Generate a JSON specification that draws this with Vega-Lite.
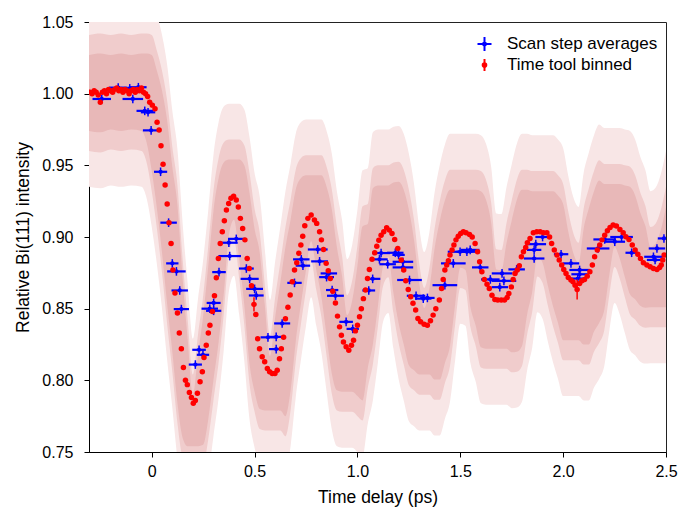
{
  "$schema": "https://vega.github.io/schema/vega-lite/v6.json",
  "width": 577,
  "height": 430,
  "autosize": "none",
  "padding": {"left": 89, "top": 22, "right": 12, "bottom": 58},
  "background": "white",
  "datasets": {
    "cloud": [
      {"x":-0.305,"ilo":0.974,"ihi":1.027,"lo":0.960,"hi":1.041,"olo":0.935,"ohi":1.066},
      {"x":-0.25,"ilo":0.973,"ihi":1.028,"lo":0.959,"hi":1.042,"olo":0.934,"ohi":1.067},
      {"x":-0.20,"ilo":0.975,"ihi":1.027,"lo":0.961,"hi":1.041,"olo":0.936,"ohi":1.066},
      {"x":-0.15,"ilo":0.974,"ihi":1.028,"lo":0.960,"hi":1.042,"olo":0.935,"ohi":1.067},
      {"x":-0.10,"ilo":0.975,"ihi":1.027,"lo":0.961,"hi":1.041,"olo":0.936,"ohi":1.066},
      {"x":-0.05,"ilo":0.974,"ihi":1.028,"lo":0.960,"hi":1.042,"olo":0.935,"ohi":1.067},
      {"x":-0.025,"ilo":0.966,"ihi":1.028,"lo":0.952,"hi":1.042,"olo":0.927,"ohi":1.067},
      {"x":0.0,"ilo":0.946,"ihi":1.027,"lo":0.932,"hi":1.041,"olo":0.907,"ohi":1.066},
      {"x":0.025,"ilo":0.920,"ihi":1.016,"lo":0.906,"hi":1.030,"olo":0.881,"ohi":1.055},
      {"x":0.05,"ilo":0.889,"ihi":1.002,"lo":0.875,"hi":1.016,"olo":0.850,"ohi":1.041},
      {"x":0.075,"ilo":0.853,"ihi":0.981,"lo":0.839,"hi":0.995,"olo":0.814,"ohi":1.020},
      {"x":0.10,"ilo":0.820,"ihi":0.949,"lo":0.806,"hi":0.963,"olo":0.781,"ohi":0.988},
      {"x":0.125,"ilo":0.784,"ihi":0.922,"lo":0.770,"hi":0.936,"olo":0.745,"ohi":0.961},
      {"x":0.15,"ilo":0.760,"ihi":0.871,"lo":0.746,"hi":0.885,"olo":0.721,"ohi":0.910},
      {"x":0.175,"ilo":0.754,"ihi":0.828,"lo":0.740,"hi":0.842,"olo":0.715,"ohi":0.867},
      {"x":0.2,"ilo":0.754,"ihi":0.790,"lo":0.740,"hi":0.804,"olo":0.715,"ohi":0.829},
      {"x":0.225,"ilo":0.754,"ihi":0.818,"lo":0.740,"hi":0.832,"olo":0.715,"ohi":0.857},
      {"x":0.25,"ilo":0.755,"ihi":0.845,"lo":0.741,"hi":0.859,"olo":0.716,"ohi":0.884},
      {"x":0.275,"ilo":0.773,"ihi":0.880,"lo":0.759,"hi":0.894,"olo":0.734,"ohi":0.919},
      {"x":0.30,"ilo":0.800,"ihi":0.918,"lo":0.786,"hi":0.932,"olo":0.761,"ohi":0.957},
      {"x":0.325,"ilo":0.8265,"ihi":0.941,"lo":0.8125,"hi":0.955,"olo":0.7875,"ohi":0.980},
      {"x":0.35,"ilo":0.860,"ihi":0.952,"lo":0.846,"hi":0.966,"olo":0.821,"ohi":0.991},
      {"x":0.375,"ilo":0.901,"ihi":0.954,"lo":0.887,"hi":0.968,"olo":0.862,"ohi":0.993},
      {"x":0.40,"ilo":0.912,"ihi":0.954,"lo":0.898,"hi":0.968,"olo":0.873,"ohi":0.993},
      {"x":0.425,"ilo":0.885,"ihi":0.954,"lo":0.871,"hi":0.968,"olo":0.846,"ohi":0.993},
      {"x":0.45,"ilo":0.8525,"ihi":0.950,"lo":0.8385,"hi":0.964,"olo":0.8135,"ohi":0.989},
      {"x":0.475,"ilo":0.812,"ihi":0.931,"lo":0.798,"hi":0.945,"olo":0.773,"ohi":0.970},
      {"x":0.50,"ilo":0.792,"ihi":0.9055,"lo":0.778,"hi":0.9195,"olo":0.753,"ohi":0.9445},
      {"x":0.525,"ilo":0.780,"ihi":0.889,"lo":0.766,"hi":0.903,"olo":0.741,"ohi":0.928},
      {"x":0.55,"ilo":0.779,"ihi":0.852,"lo":0.765,"hi":0.866,"olo":0.740,"ohi":0.891},
      {"x":0.575,"ilo":0.779,"ihi":0.817,"lo":0.765,"hi":0.831,"olo":0.740,"ohi":0.856},
      {"x":0.60,"ilo":0.779,"ihi":0.844,"lo":0.765,"hi":0.858,"olo":0.740,"ohi":0.883},
      {"x":0.625,"ilo":0.779,"ihi":0.868,"lo":0.765,"hi":0.882,"olo":0.740,"ohi":0.907},
      {"x":0.65,"ilo":0.775,"ihi":0.893,"lo":0.761,"hi":0.907,"olo":0.736,"ohi":0.932},
      {"x":0.675,"ilo":0.793,"ihi":0.912,"lo":0.779,"hi":0.926,"olo":0.754,"ohi":0.951},
      {"x":0.70,"ilo":0.827,"ihi":0.933,"lo":0.813,"hi":0.947,"olo":0.788,"ohi":0.972},
      {"x":0.725,"ilo":0.853,"ihi":0.941,"lo":0.839,"hi":0.955,"olo":0.814,"ohi":0.980},
      {"x":0.75,"ilo":0.877,"ihi":0.943,"lo":0.863,"hi":0.957,"olo":0.838,"ohi":0.982},
      {"x":0.775,"ilo":0.897,"ihi":0.943,"lo":0.883,"hi":0.957,"olo":0.858,"ohi":0.982},
      {"x":0.80,"ilo":0.877,"ihi":0.943,"lo":0.863,"hi":0.957,"olo":0.838,"ohi":0.982},
      {"x":0.825,"ilo":0.858,"ihi":0.943,"lo":0.844,"hi":0.957,"olo":0.819,"ohi":0.982},
      {"x":0.85,"ilo":0.831,"ihi":0.935,"lo":0.817,"hi":0.949,"olo":0.792,"ohi":0.974},
      {"x":0.875,"ilo":0.805,"ihi":0.9195,"lo":0.791,"hi":0.9335,"olo":0.766,"ohi":0.9585},
      {"x":0.90,"ilo":0.793,"ihi":0.893,"lo":0.779,"hi":0.907,"olo":0.754,"ohi":0.932},
      {"x":0.925,"ilo":0.792,"ihi":0.873,"lo":0.778,"hi":0.887,"olo":0.753,"ohi":0.912},
      {"x":0.95,"ilo":0.792,"ihi":0.8455,"lo":0.778,"hi":0.8595,"olo":0.753,"ohi":0.8845},
      {"x":0.975,"ilo":0.792,"ihi":0.856,"lo":0.778,"hi":0.870,"olo":0.753,"ohi":0.895},
      {"x":1.0,"ilo":0.789,"ihi":0.880,"lo":0.775,"hi":0.894,"olo":0.750,"ohi":0.919},
      {"x":1.025,"ilo":0.786,"ihi":0.9075,"lo":0.772,"hi":0.9215,"olo":0.747,"ohi":0.9465},
      {"x":1.05,"ilo":0.8085,"ihi":0.909,"lo":0.7945,"hi":0.923,"olo":0.7695,"ohi":0.948},
      {"x":1.075,"ilo":0.825,"ihi":0.934,"lo":0.811,"hi":0.948,"olo":0.786,"ohi":0.973},
      {"x":1.10,"ilo":0.852,"ihi":0.936,"lo":0.838,"hi":0.950,"olo":0.813,"ohi":0.975},
      {"x":1.125,"ilo":0.880,"ihi":0.936,"lo":0.866,"hi":0.950,"olo":0.841,"ohi":0.975},
      {"x":1.15,"ilo":0.886,"ihi":0.936,"lo":0.872,"hi":0.950,"olo":0.847,"ohi":0.975},
      {"x":1.175,"ilo":0.861,"ihi":0.938,"lo":0.847,"hi":0.952,"olo":0.822,"ohi":0.977},
      {"x":1.20,"ilo":0.840,"ihi":0.9385,"lo":0.826,"hi":0.9525,"olo":0.801,"ohi":0.9775},
      {"x":1.225,"ilo":0.825,"ihi":0.933,"lo":0.811,"hi":0.947,"olo":0.786,"ohi":0.972},
      {"x":1.25,"ilo":0.8105,"ihi":0.919,"lo":0.7965,"hi":0.933,"olo":0.7715,"ohi":0.958},
      {"x":1.275,"ilo":0.807,"ihi":0.898,"lo":0.793,"hi":0.912,"olo":0.768,"ohi":0.937},
      {"x":1.30,"ilo":0.804,"ihi":0.868,"lo":0.790,"hi":0.882,"olo":0.765,"ohi":0.907},
      {"x":1.325,"ilo":0.804,"ihi":0.8505,"lo":0.790,"hi":0.8645,"olo":0.765,"ohi":0.8895},
      {"x":1.35,"ilo":0.804,"ihi":0.8645,"lo":0.790,"hi":0.8785,"olo":0.765,"ohi":0.9035},
      {"x":1.375,"ilo":0.8005,"ihi":0.892,"lo":0.7865,"hi":0.906,"olo":0.7615,"ohi":0.931},
      {"x":1.40,"ilo":0.8005,"ihi":0.911,"lo":0.7865,"hi":0.925,"olo":0.7615,"ohi":0.950},
      {"x":1.425,"ilo":0.812,"ihi":0.9254,"lo":0.798,"hi":0.9394,"olo":0.773,"ohi":0.9644},
      {"x":1.45,"ilo":0.824,"ihi":0.933,"lo":0.810,"hi":0.947,"olo":0.785,"ohi":0.972},
      {"x":1.475,"ilo":0.853,"ihi":0.933,"lo":0.839,"hi":0.947,"olo":0.814,"ohi":0.972},
      {"x":1.50,"ilo":0.8785,"ihi":0.933,"lo":0.8645,"hi":0.947,"olo":0.8395,"ohi":0.972},
      {"x":1.525,"ilo":0.877,"ihi":0.933,"lo":0.863,"hi":0.947,"olo":0.838,"ohi":0.972},
      {"x":1.55,"ilo":0.8506,"ihi":0.933,"lo":0.8366,"hi":0.947,"olo":0.8116,"ohi":0.972},
      {"x":1.575,"ilo":0.838,"ihi":0.933,"lo":0.824,"hi":0.947,"olo":0.799,"ohi":0.972},
      {"x":1.60,"ilo":0.823,"ihi":0.932,"lo":0.809,"hi":0.946,"olo":0.784,"ohi":0.971},
      {"x":1.625,"ilo":0.822,"ihi":0.926,"lo":0.808,"hi":0.940,"olo":0.783,"ohi":0.965},
      {"x":1.65,"ilo":0.822,"ihi":0.910,"lo":0.808,"hi":0.924,"olo":0.783,"ohi":0.949},
      {"x":1.675,"ilo":0.822,"ihi":0.8774,"lo":0.808,"hi":0.8914,"olo":0.783,"ohi":0.9164},
      {"x":1.70,"ilo":0.822,"ihi":0.877,"lo":0.808,"hi":0.891,"olo":0.783,"ohi":0.916},
      {"x":1.725,"ilo":0.822,"ihi":0.896,"lo":0.808,"hi":0.910,"olo":0.783,"ohi":0.935},
      {"x":1.75,"ilo":0.8196,"ihi":0.9115,"lo":0.8056,"hi":0.9255,"olo":0.7806,"ohi":0.9505},
      {"x":1.775,"ilo":0.820,"ihi":0.926,"lo":0.806,"hi":0.940,"olo":0.781,"ohi":0.965},
      {"x":1.80,"ilo":0.824,"ihi":0.933,"lo":0.810,"hi":0.947,"olo":0.785,"ohi":0.972},
      {"x":1.825,"ilo":0.846,"ihi":0.933,"lo":0.832,"hi":0.947,"olo":0.807,"ohi":0.972},
      {"x":1.85,"ilo":0.862,"ihi":0.932,"lo":0.848,"hi":0.946,"olo":0.823,"ohi":0.971},
      {"x":1.875,"ilo":0.8865,"ihi":0.932,"lo":0.8725,"hi":0.946,"olo":0.8475,"ohi":0.971},
      {"x":1.90,"ilo":0.882,"ihi":0.932,"lo":0.868,"hi":0.946,"olo":0.843,"ohi":0.971},
      {"x":1.925,"ilo":0.8665,"ihi":0.932,"lo":0.8525,"hi":0.946,"olo":0.8275,"ohi":0.971},
      {"x":1.95,"ilo":0.852,"ihi":0.932,"lo":0.838,"hi":0.946,"olo":0.813,"ohi":0.971},
      {"x":1.975,"ilo":0.840,"ihi":0.929,"lo":0.826,"hi":0.943,"olo":0.801,"ohi":0.968},
      {"x":2.00,"ilo":0.828,"ihi":0.923,"lo":0.814,"hi":0.937,"olo":0.789,"ohi":0.962},
      {"x":2.025,"ilo":0.828,"ihi":0.9036,"lo":0.814,"hi":0.9176,"olo":0.789,"ohi":0.9426},
      {"x":2.05,"ilo":0.828,"ihi":0.8885,"lo":0.814,"hi":0.9025,"olo":0.789,"ohi":0.9275},
      {"x":2.075,"ilo":0.828,"ihi":0.882,"lo":0.814,"hi":0.896,"olo":0.789,"ohi":0.921},
      {"x":2.10,"ilo":0.825,"ihi":0.906,"lo":0.811,"hi":0.920,"olo":0.786,"ohi":0.945},
      {"x":2.125,"ilo":0.825,"ihi":0.920,"lo":0.811,"hi":0.934,"olo":0.786,"ohi":0.959},
      {"x":2.15,"ilo":0.834,"ihi":0.932,"lo":0.820,"hi":0.946,"olo":0.795,"ohi":0.971},
      {"x":2.175,"ilo":0.840,"ihi":0.9395,"lo":0.826,"hi":0.9535,"olo":0.801,"ohi":0.9785},
      {"x":2.20,"ilo":0.849,"ihi":0.937,"lo":0.835,"hi":0.951,"olo":0.810,"ohi":0.976},
      {"x":2.225,"ilo":0.874,"ihi":0.937,"lo":0.860,"hi":0.951,"olo":0.835,"ohi":0.976},
      {"x":2.25,"ilo":0.893,"ihi":0.937,"lo":0.879,"hi":0.951,"olo":0.854,"ohi":0.976},
      {"x":2.275,"ilo":0.885,"ihi":0.937,"lo":0.871,"hi":0.951,"olo":0.846,"ohi":0.976},
      {"x":2.30,"ilo":0.872,"ihi":0.936,"lo":0.858,"hi":0.950,"olo":0.833,"ohi":0.975},
      {"x":2.325,"ilo":0.860,"ihi":0.935,"lo":0.846,"hi":0.949,"olo":0.821,"ohi":0.974},
      {"x":2.35,"ilo":0.8565,"ihi":0.929,"lo":0.8425,"hi":0.943,"olo":0.8175,"ohi":0.968},
      {"x":2.375,"ilo":0.852,"ihi":0.917,"lo":0.838,"hi":0.931,"olo":0.813,"ohi":0.956},
      {"x":2.40,"ilo":0.8507,"ihi":0.9076,"lo":0.8367,"hi":0.9216,"olo":0.8117,"ohi":0.9466},
      {"x":2.425,"ilo":0.851,"ihi":0.893,"lo":0.837,"hi":0.907,"olo":0.812,"ohi":0.932},
      {"x":2.45,"ilo":0.851,"ihi":0.8955,"lo":0.837,"hi":0.9095,"olo":0.812,"ohi":0.9345},
      {"x":2.475,"ilo":0.851,"ihi":0.905,"lo":0.837,"hi":0.919,"olo":0.812,"ohi":0.944},
      {"x":2.50,"ilo":0.851,"ihi":0.921,"lo":0.837,"hi":0.935,"olo":0.812,"ohi":0.960}
    ],
    "blue": [
      {"x":-0.243,"y":0.9963,"xe":0.045,"ye":0.003},
      {"x":-0.163,"y":1.0042,"xe":0.045,"ye":0.003},
      {"x":-0.107,"y":1.0037,"xe":0.045,"ye":0.003},
      {"x":-0.092,"y":0.9963,"xe":0.05,"ye":0.003},
      {"x":-0.065,"y":1.0045,"xe":0.04,"ye":0.003},
      {"x":-0.034,"y":0.988,"xe":0.04,"ye":0.003},
      {"x":-0.018,"y":0.987,"xe":0.035,"ye":0.003},
      {"x":-0.003,"y":0.9744,"xe":0.04,"ye":0.003},
      {"x":0.043,"y":0.9455,"xe":0.032,"ye":0.003},
      {"x":0.082,"y":0.910,"xe":0.04,"ye":0.003},
      {"x":0.100,"y":0.8816,"xe":0.03,"ye":0.003},
      {"x":0.120,"y":0.876,"xe":0.045,"ye":0.003},
      {"x":0.136,"y":0.8627,"xe":0.04,"ye":0.003},
      {"x":0.144,"y":0.8497,"xe":0.037,"ye":0.003},
      {"x":0.212,"y":0.811,"xe":0.032,"ye":0.003},
      {"x":0.230,"y":0.8213,"xe":0.033,"ye":0.003},
      {"x":0.249,"y":0.8178,"xe":0.03,"ye":0.003},
      {"x":0.282,"y":0.850,"xe":0.04,"ye":0.003},
      {"x":0.301,"y":0.854,"xe":0.034,"ye":0.003},
      {"x":0.301,"y":0.8485,"xe":0.037,"ye":0.003},
      {"x":0.327,"y":0.8755,"xe":0.033,"ye":0.003},
      {"x":0.375,"y":0.896,"xe":0.043,"ye":0.003},
      {"x":0.379,"y":0.8867,"xe":0.055,"ye":0.003},
      {"x":0.411,"y":0.8987,"xe":0.04,"ye":0.003},
      {"x":0.460,"y":0.878,"xe":0.036,"ye":0.003},
      {"x":0.476,"y":0.8708,"xe":0.044,"ye":0.003},
      {"x":0.500,"y":0.8638,"xe":0.041,"ye":0.003},
      {"x":0.508,"y":0.8592,"xe":0.036,"ye":0.003},
      {"x":0.565,"y":0.830,"xe":0.036,"ye":0.003},
      {"x":0.605,"y":0.8303,"xe":0.04,"ye":0.003},
      {"x":0.605,"y":0.8218,"xe":0.035,"ye":0.003},
      {"x":0.634,"y":0.8397,"xe":0.039,"ye":0.003},
      {"x":0.694,"y":0.868,"xe":0.035,"ye":0.003},
      {"x":0.727,"y":0.8844,"xe":0.04,"ye":0.003},
      {"x":0.735,"y":0.880,"xe":0.035,"ye":0.003},
      {"x":0.807,"y":0.8913,"xe":0.048,"ye":0.003},
      {"x":0.816,"y":0.883,"xe":0.041,"ye":0.003},
      {"x":0.850,"y":0.872,"xe":0.036,"ye":0.003},
      {"x":0.861,"y":0.8746,"xe":0.04,"ye":0.003},
      {"x":0.877,"y":0.863,"xe":0.03,"ye":0.003},
      {"x":0.893,"y":0.859,"xe":0.041,"ye":0.003},
      {"x":0.945,"y":0.8408,"xe":0.033,"ye":0.003},
      {"x":0.977,"y":0.8359,"xe":0.03,"ye":0.003},
      {"x":1.055,"y":0.8627,"xe":0.031,"ye":0.003},
      {"x":1.074,"y":0.8708,"xe":0.037,"ye":0.003},
      {"x":1.107,"y":0.8844,"xe":0.04,"ye":0.003},
      {"x":1.115,"y":0.8888,"xe":0.044,"ye":0.003},
      {"x":1.147,"y":0.881,"xe":0.04,"ye":0.003},
      {"x":1.184,"y":0.889,"xe":0.04,"ye":0.003},
      {"x":1.200,"y":0.8875,"xe":0.03,"ye":0.003},
      {"x":1.221,"y":0.8827,"xe":0.05,"ye":0.003},
      {"x":1.221,"y":0.8788,"xe":0.05,"ye":0.003},
      {"x":1.253,"y":0.870,"xe":0.06,"ye":0.003},
      {"x":1.285,"y":0.859,"xe":0.045,"ye":0.003},
      {"x":1.320,"y":0.857,"xe":0.04,"ye":0.003},
      {"x":1.340,"y":0.8575,"xe":0.035,"ye":0.003},
      {"x":1.425,"y":0.8664,"xe":0.06,"ye":0.003},
      {"x":1.466,"y":0.8816,"xe":0.06,"ye":0.003},
      {"x":1.499,"y":0.8897,"xe":0.06,"ye":0.003},
      {"x":1.532,"y":0.8897,"xe":0.05,"ye":0.003},
      {"x":1.548,"y":0.891,"xe":0.045,"ye":0.003},
      {"x":1.597,"y":0.8788,"xe":0.04,"ye":0.003},
      {"x":1.646,"y":0.8704,"xe":0.045,"ye":0.003},
      {"x":1.692,"y":0.865,"xe":0.04,"ye":0.003},
      {"x":1.703,"y":0.8746,"xe":0.05,"ye":0.003},
      {"x":1.712,"y":0.8694,"xe":0.06,"ye":0.003},
      {"x":1.774,"y":0.8774,"xe":0.04,"ye":0.003},
      {"x":1.859,"y":0.885,"xe":0.05,"ye":0.003},
      {"x":1.859,"y":0.891,"xe":0.035,"ye":0.003},
      {"x":1.867,"y":0.895,"xe":0.05,"ye":0.003},
      {"x":1.900,"y":0.900,"xe":0.035,"ye":0.003},
      {"x":1.990,"y":0.888,"xe":0.035,"ye":0.003},
      {"x":2.038,"y":0.8816,"xe":0.04,"ye":0.003},
      {"x":2.071,"y":0.871,"xe":0.045,"ye":0.003},
      {"x":2.080,"y":0.877,"xe":0.05,"ye":0.003},
      {"x":2.080,"y":0.874,"xe":0.04,"ye":0.003},
      {"x":2.170,"y":0.892,"xe":0.055,"ye":0.003},
      {"x":2.202,"y":0.8983,"xe":0.055,"ye":0.003},
      {"x":2.251,"y":0.8967,"xe":0.05,"ye":0.003},
      {"x":2.284,"y":0.900,"xe":0.055,"ye":0.003},
      {"x":2.333,"y":0.889,"xe":0.03,"ye":0.003},
      {"x":2.439,"y":0.8862,"xe":0.045,"ye":0.003},
      {"x":2.447,"y":0.884,"xe":0.04,"ye":0.003},
      {"x":2.456,"y":0.892,"xe":0.04,"ye":0.003},
      {"x":2.490,"y":0.899,"xe":0.03,"ye":0.003}
    ],
    "red": [
      {"x":-0.30,"y":1.001},{"x":-0.29,"y":1.000},{"x":-0.28,"y":1.002},{"x":-0.27,"y":1.001},
      {"x":-0.26,"y":0.999},{"x":-0.25,"y":0.994},{"x":-0.24,"y":1.001},{"x":-0.23,"y":1.002},
      {"x":-0.22,"y":1.000},{"x":-0.21,"y":1.003},{"x":-0.20,"y":1.002},{"x":-0.19,"y":1.001},
      {"x":-0.18,"y":1.003},{"x":-0.17,"y":1.004},{"x":-0.16,"y":1.002},{"x":-0.15,"y":1.003},
      {"x":-0.14,"y":1.001},{"x":-0.13,"y":1.003},{"x":-0.12,"y":1.002},{"x":-0.11,"y":1.000},
      {"x":-0.10,"y":1.002},{"x":-0.09,"y":1.003},{"x":-0.08,"y":1.001},{"x":-0.07,"y":1.003},
      {"x":-0.06,"y":1.002},{"x":-0.05,"y":1.004},{"x":-0.04,"y":1.001},{"x":-0.03,"y":1.000},
      {"x":-0.02,"y":0.998},{"x":-0.01,"y":0.994},{"x":0.003,"y":0.992},{"x":0.016,"y":0.9895},
      {"x":0.026,"y":0.980},{"x":0.036,"y":0.9746},{"x":0.045,"y":0.9637},{"x":0.055,"y":0.9507},
      {"x":0.065,"y":0.9362},{"x":0.075,"y":0.923},{"x":0.084,"y":0.910},{"x":0.094,"y":0.8955},
      {"x":0.103,"y":0.877},{"x":0.113,"y":0.861},{"x":0.125,"y":0.847},{"x":0.134,"y":0.833},
      {"x":0.144,"y":0.822},{"x":0.154,"y":0.809},{"x":0.164,"y":0.800},{"x":0.173,"y":0.797},
      {"x":0.183,"y":0.7915},{"x":0.193,"y":0.788},{"x":0.202,"y":0.784},{"x":0.212,"y":0.786},
      {"x":0.222,"y":0.791},{"x":0.235,"y":0.799},{"x":0.246,"y":0.806},{"x":0.254,"y":0.816},
      {"x":0.265,"y":0.8245},{"x":0.275,"y":0.833},{"x":0.283,"y":0.8385},{"x":0.295,"y":0.848},
      {"x":0.305,"y":0.859},{"x":0.314,"y":0.8715},{"x":0.324,"y":0.885},{"x":0.333,"y":0.8955},
      {"x":0.343,"y":0.9036},{"x":0.353,"y":0.9113},{"x":0.363,"y":0.9188},{"x":0.374,"y":0.9234},
      {"x":0.385,"y":0.927},{"x":0.398,"y":0.9285},{"x":0.411,"y":0.9258},{"x":0.421,"y":0.921},
      {"x":0.431,"y":0.913},{"x":0.442,"y":0.906},{"x":0.453,"y":0.898},{"x":0.464,"y":0.885},
      {"x":0.474,"y":0.878},{"x":0.485,"y":0.866},{"x":0.497,"y":0.853,"e":0.005},{"x":0.506,"y":0.846},
      {"x":0.515,"y":0.829},{"x":0.524,"y":0.822},{"x":0.537,"y":0.8164},{"x":0.549,"y":0.813},
      {"x":0.562,"y":0.8083},{"x":0.573,"y":0.806},{"x":0.586,"y":0.8048},{"x":0.599,"y":0.8048},
      {"x":0.61,"y":0.807},{"x":0.621,"y":0.815},{"x":0.63,"y":0.822},{"x":0.641,"y":0.830},
      {"x":0.65,"y":0.843},{"x":0.662,"y":0.851},{"x":0.673,"y":0.8595},{"x":0.683,"y":0.8687},
      {"x":0.694,"y":0.877},{"x":0.705,"y":0.882},{"x":0.715,"y":0.8886},{"x":0.725,"y":0.8944},
      {"x":0.734,"y":0.9006},{"x":0.744,"y":0.9078},{"x":0.759,"y":0.913},{"x":0.775,"y":0.9153},
      {"x":0.791,"y":0.9118},{"x":0.802,"y":0.9095},{"x":0.816,"y":0.9036},{"x":0.825,"y":0.898},
      {"x":0.835,"y":0.8913},{"x":0.848,"y":0.8816},{"x":0.858,"y":0.8764},{"x":0.868,"y":0.871},
      {"x":0.88,"y":0.8622},{"x":0.893,"y":0.854},{"x":0.903,"y":0.8448},{"x":0.913,"y":0.8373},
      {"x":0.922,"y":0.8315},{"x":0.932,"y":0.8268},{"x":0.945,"y":0.8234},{"x":0.958,"y":0.821},
      {"x":0.971,"y":0.8245},{"x":0.981,"y":0.828},{"x":0.99,"y":0.8345},{"x":1.0,"y":0.8385},
      {"x":1.01,"y":0.8443},{"x":1.019,"y":0.850},{"x":1.029,"y":0.857},{"x":1.039,"y":0.863},
      {"x":1.049,"y":0.871},{"x":1.058,"y":0.8774},{"x":1.071,"y":0.8844},{"x":1.084,"y":0.889},
      {"x":1.094,"y":0.8936},{"x":1.104,"y":0.8978},{"x":1.115,"y":0.9013},{"x":1.128,"y":0.9036},
      {"x":1.142,"y":0.9064},{"x":1.155,"y":0.9048},{"x":1.168,"y":0.9025},{"x":1.181,"y":0.8983},
      {"x":1.196,"y":0.892},{"x":1.213,"y":0.884},{"x":1.225,"y":0.877},{"x":1.235,"y":0.8694},
      {"x":1.247,"y":0.8634},{"x":1.259,"y":0.8583},{"x":1.27,"y":0.8537},{"x":1.283,"y":0.849},
      {"x":1.294,"y":0.8432},{"x":1.307,"y":0.8408},{"x":1.324,"y":0.8392},{"x":1.34,"y":0.8385},
      {"x":1.355,"y":0.8415},{"x":1.368,"y":0.8455},{"x":1.381,"y":0.850},{"x":1.398,"y":0.856},
      {"x":1.409,"y":0.864},{"x":1.417,"y":0.8704},{"x":1.425,"y":0.877},{"x":1.434,"y":0.8804},
      {"x":1.442,"y":0.8834},{"x":1.45,"y":0.8874},{"x":1.46,"y":0.891},{"x":1.469,"y":0.8944},
      {"x":1.479,"y":0.898},{"x":1.49,"y":0.9006},{"x":1.502,"y":0.9025},{"x":1.515,"y":0.9036},
      {"x":1.528,"y":0.903},{"x":1.545,"y":0.9018},{"x":1.558,"y":0.900},{"x":1.572,"y":0.8955},
      {"x":1.584,"y":0.8897},{"x":1.594,"y":0.8827},{"x":1.605,"y":0.8757},{"x":1.617,"y":0.8704},
      {"x":1.63,"y":0.8671},{"x":1.641,"y":0.8641},{"x":1.654,"y":0.8594},{"x":1.668,"y":0.8564},
      {"x":1.682,"y":0.856},{"x":1.699,"y":0.856},{"x":1.715,"y":0.856},{"x":1.728,"y":0.8578},
      {"x":1.736,"y":0.8606},{"x":1.748,"y":0.8652},{"x":1.757,"y":0.8704},{"x":1.766,"y":0.8746},
      {"x":1.777,"y":0.877},{"x":1.787,"y":0.880},{"x":1.797,"y":0.8862},{"x":1.807,"y":0.8897},
      {"x":1.818,"y":0.8927},{"x":1.826,"y":0.896},{"x":1.839,"y":0.899},{"x":1.855,"y":0.903},
      {"x":1.872,"y":0.9036},{"x":1.888,"y":0.9036},{"x":1.904,"y":0.903},{"x":1.921,"y":0.903},
      {"x":1.934,"y":0.900},{"x":1.944,"y":0.8955},{"x":1.957,"y":0.8909},{"x":1.97,"y":0.8874},
      {"x":1.981,"y":0.8839},{"x":1.993,"y":0.8804},{"x":2.003,"y":0.8774},{"x":2.014,"y":0.8746},
      {"x":2.025,"y":0.8718},{"x":2.038,"y":0.870},{"x":2.048,"y":0.8687},{"x":2.058,"y":0.8664},
      {"x":2.068,"y":0.8634,"e":0.007},{"x":2.08,"y":0.8676},{"x":2.091,"y":0.8694},{"x":2.104,"y":0.8704},
      {"x":2.117,"y":0.8727},{"x":2.13,"y":0.8757},{"x":2.142,"y":0.8804},{"x":2.153,"y":0.8862},
      {"x":2.166,"y":0.8909},{"x":2.178,"y":0.8944},{"x":2.189,"y":0.898},{"x":2.202,"y":0.9013},
      {"x":2.215,"y":0.9043},{"x":2.228,"y":0.9067},{"x":2.243,"y":0.9083},{"x":2.259,"y":0.9076},
      {"x":2.276,"y":0.9053},{"x":2.292,"y":0.903},{"x":2.305,"y":0.9002},{"x":2.32,"y":0.8983},
      {"x":2.336,"y":0.8944},{"x":2.35,"y":0.8909},{"x":2.363,"y":0.888},{"x":2.376,"y":0.885},
      {"x":2.39,"y":0.882},{"x":2.407,"y":0.8804},{"x":2.423,"y":0.8792},{"x":2.439,"y":0.878},
      {"x":2.456,"y":0.8774},{"x":2.469,"y":0.8788},{"x":2.477,"y":0.8804},{"x":2.484,"y":0.8839},
      {"x":2.491,"y":0.8874}
    ],
    "leg": [
      {"s":"Scan step averages"},
      {"s":"Time tool binned"}
    ]
  },
  "encoding": {
    "x": {
      "field": "x",
      "type": "quantitative",
      "title": "Time delay (ps)",
      "scale": {"domain": [-0.305, 2.5], "nice": false, "zero": false},
      "axis": {
        "values": [0, 0.5, 1, 1.5, 2, 2.5],
        "labelExpr": "datum.value === 0 ? '0' : format(datum.value, '.1f')",
        "labelPadding": 6,
        "titlePadding": 9
      }
    }
  },
  "layer": [
    {
      "data": {"name": "cloud"},
      "mark": {"type": "area", "color": "#f8e6e6", "interpolate": "monotone", "clip": true},
      "encoding": {
        "y": {"field": "olo", "type": "quantitative", "title": "Relative Bi(111) intensity",
              "scale": {"domain": [0.75, 1.05], "nice": false, "zero": false},
              "axis": {"values": [0.75, 0.8, 0.85, 0.9, 0.95, 1.0, 1.05], "format": ".2f", "labelPadding": 11, "titlePadding": 9}},
        "y2": {"field": "ohi"}
      }
    },
    {
      "data": {"name": "cloud"},
      "mark": {"type": "area", "color": "#f0cccc", "interpolate": "monotone", "clip": true},
      "encoding": {
        "y": {"field": "lo", "type": "quantitative", "title": "Relative Bi(111) intensity"},
        "y2": {"field": "hi"}
      }
    },
    {
      "data": {"name": "cloud"},
      "mark": {"type": "area", "color": "#e8b8b8", "interpolate": "monotone", "clip": true},
      "encoding": {
        "y": {"field": "ilo", "type": "quantitative", "title": "Relative Bi(111) intensity"},
        "y2": {"field": "ihi"}
      }
    },
    {
      "data": {"name": "blue"},
      "mark": {"type": "errorbar", "color": "#0000ff", "thickness": 2.2, "clip": true},
      "encoding": {
        "xError": {"field": "xe"},
        "y": {"field": "y", "type": "quantitative", "title": "Relative Bi(111) intensity"}
      }
    },
    {
      "data": {"name": "blue"},
      "mark": {"type": "errorbar", "color": "#0000ff", "thickness": 1.5, "clip": true},
      "encoding": {
        "y": {"field": "y", "type": "quantitative", "title": "Relative Bi(111) intensity"},
        "yError": {"field": "ye"}
      }
    },
    {
      "data": {"name": "blue"},
      "mark": {"type": "circle", "color": "#0000ff", "size": 18, "opacity": 1, "clip": true},
      "encoding": {
        "y": {"field": "y", "type": "quantitative", "title": "Relative Bi(111) intensity"}
      }
    },
    {
      "data": {"name": "red"},
      "transform": [{"filter": "isValid(datum.e)"}],
      "mark": {"type": "errorbar", "color": "#ff0000", "thickness": 1.5, "clip": true},
      "encoding": {
        "y": {"field": "y", "type": "quantitative", "title": "Relative Bi(111) intensity"},
        "yError": {"field": "e"}
      }
    },
    {
      "data": {"name": "red"},
      "mark": {"type": "circle", "color": "#ff0000", "size": 30, "opacity": 1, "clip": true},
      "encoding": {
        "y": {"field": "y", "type": "quantitative", "title": "Relative Bi(111) intensity"}
      }
    },
    {
      "data": {"name": "leg"},
      "mark": {"type": "point", "filled": false, "opacity": 0},
      "encoding": {
        "x": {"value": 0},
        "y": {"value": 0},
        "color": {
          "field": "s", "type": "nominal",
          "scale": {"domain": ["Scan step averages", "Time tool binned"], "range": ["#0000ff", "#ff0000"]},
          "legend": {"title": null, "orient": "none", "legendX": 387, "legendY": 12, "symbolOpacity": 1, "symbolStrokeWidth": 2, "symbolSize": 196, "labelFontSize": 17, "labelFont": "Liberation Sans", "labelColor": "#000", "labelOffset": 14, "rowPadding": 1, "clipHeight": 20, "padding": 0}
        },
        "shape": {
          "field": "s", "type": "nominal",
          "scale": {"domain": ["Scan step averages", "Time tool binned"], "range": ["M-1,0H1M0,-1V1M0.22,0A0.22,0.22 0 1,1 -0.22,0A0.22,0.22 0 1,1 0.22,0Z", "M0,-0.85V0.85M0.26,0A0.26,0.26 0 1,1 -0.26,0A0.26,0.26 0 1,1 0.26,0Z"]},
          "legend": {"title": null, "orient": "none", "legendX": 387, "legendY": 12, "symbolOpacity": 1, "symbolStrokeWidth": 2, "symbolSize": 196, "labelFontSize": 17, "labelFont": "Liberation Sans", "labelColor": "#000", "labelOffset": 14, "rowPadding": 1, "clipHeight": 20, "padding": 0}
        }
      }
    }
  ],
  "config": {
    "view": {"stroke": "#222", "strokeWidth": 1},
    "axis": {
      "grid": false,
      "domainColor": "#000",
      "tickColor": "#000",
      "labelColor": "#000",
      "titleColor": "#000",
      "labelFont": "Liberation Sans",
      "titleFont": "Liberation Sans",
      "labelFontSize": 16,
      "titleFontSize": 17.5,
      "titleFontWeight": "normal",
      "tickSize": 5,
      "labelFlush": false,
      "labelOverlap": false
    }
  }
}
